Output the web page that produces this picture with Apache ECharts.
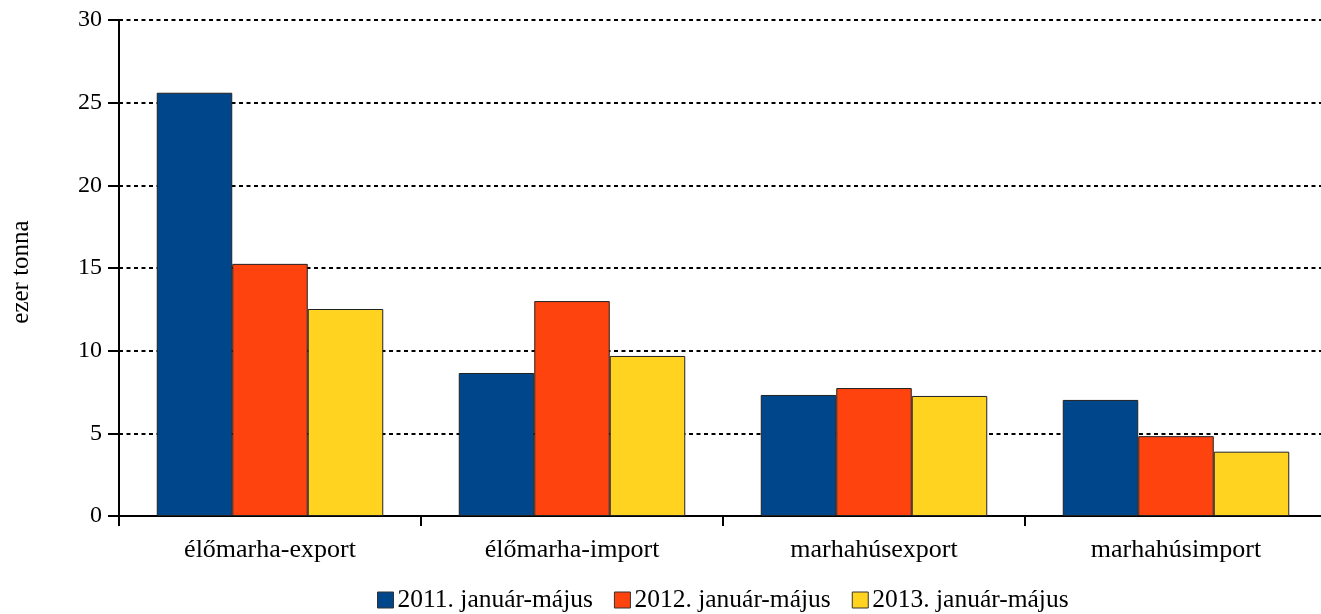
<!DOCTYPE html>
<html><head><meta charset="utf-8">
<script src="https://cdn.jsdelivr.net/npm/echarts@6/dist/echarts.min.js"></script>
<style>html,body{margin:0;padding:0;background:#fff}#c{width:1321px;height:614px}</style>
</head><body><div id="c"></div>
<script>
const categories = ['élőmarha-export', 'élőmarha-import', 'marhahúsexport', 'marhahúsimport'];
const seriesNames = ['2011. január-május', '2012. január-május', '2013. január-május'];
const s2011 = [25.6, 8.65, 7.32, 7.02];
const s2012 = [15.25, 13.0, 7.74, 4.83];
const s2013 = [12.52, 9.68, 7.26, 3.89];
const colors = ['#00468B', '#FF430F', '#FFD320'];
const font = 'Liberation Serif';
const chart = echarts.init(document.getElementById('c'));
const data = [s2011, s2012, s2013];
chart.setOption({
  animation: false,
  grid: {left: 119, width: 1208, top: 20, bottom: 98, containLabel: false, outerBoundsMode: 'none'},
  legend: {
    top: 587, left: 377, padding: 0, itemWidth: 16, itemHeight: 16, itemGap: 21,
    icon: 'rect',
    textStyle: {fontFamily: font, fontSize: 25.5, color: '#000', padding: [0,0,0,-1]},
    data: seriesNames.map((n, i) => ({name: n, itemStyle: {borderColor: '#333', borderWidth: 1}}))
  },
  xAxis: {
    type: 'category', data: categories,
    axisLine: {lineStyle: {color: '#000', width: 2}},
    axisTick: {show: true, length: 10, lineStyle: {color: '#000', width: 2}},
    axisLabel: {fontFamily: font, fontSize: 26, color: '#000', margin: 21}
  },
  yAxis: {
    type: 'value', min: 0, max: 30, interval: 5,
    name: 'ezer tonna', nameLocation: 'middle', nameGap: 85, nameRotate: 90,
    nameTextStyle: {fontFamily: font, fontSize: 25, color: '#000', padding: [0, 8, 0, 0]},
    axisLine: {show: true, lineStyle: {color: '#000', width: 2}},
    axisTick: {show: true, inside: false, length: 11, lineStyle: {color: '#000', width: 2}},
    axisLabel: {fontFamily: font, fontSize: 24, color: '#000', margin: 17},
    splitLine: {show: true, lineStyle: {color: '#000', width: 2, type: [4, 3.5]}}
  },
  series: seriesNames.map((n, i) => ({
    name: n, type: 'bar', data: data[i],
    barGap: '0%', barCategoryGap: '25%',
    itemStyle: {color: colors[i], borderColor: '#222', borderWidth: 1}
  }))
});
</script></body></html>
